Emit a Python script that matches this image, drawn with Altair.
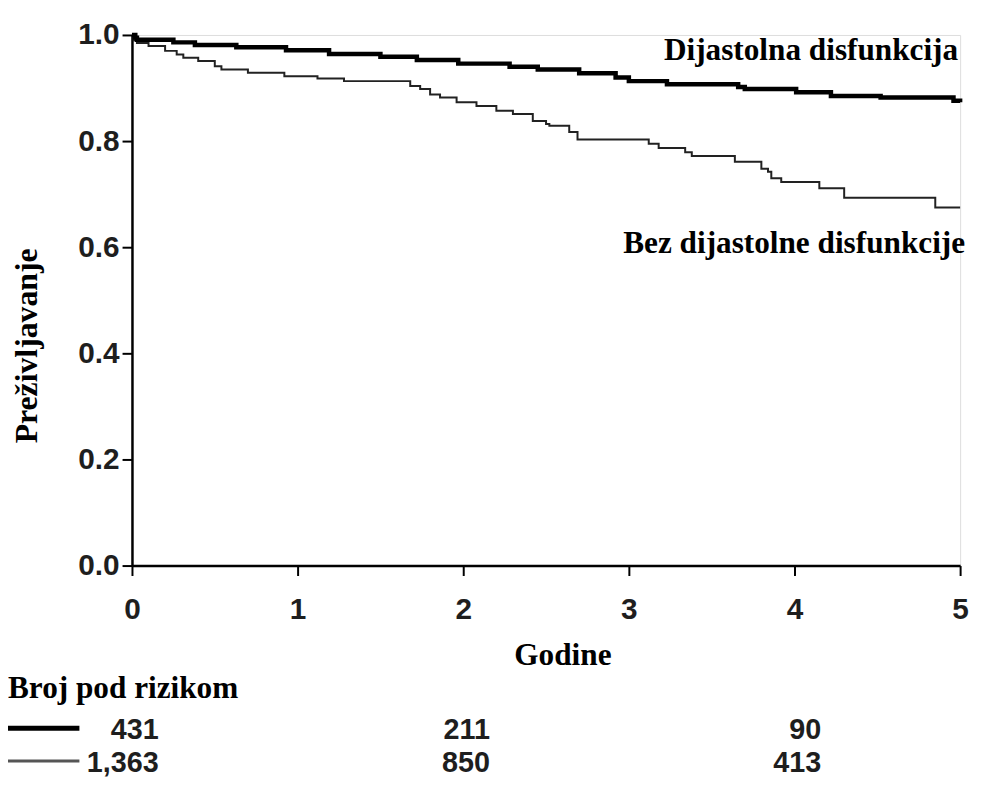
import altair as alt
import pandas as pd

# Kaplan-Meier curves (years, survival)
thick_t = [0, 0.02, 0.03, 0.25, 0.38, 0.63, 0.93, 1.19, 1.50, 1.72, 1.97, 2.28, 2.45,
           2.70, 2.92, 3.00, 3.23, 3.66, 3.70, 4.01, 4.22, 4.52, 4.96, 5.0]
thick_s = [1.0, 0.995, 0.991, 0.986, 0.981, 0.977, 0.971, 0.964, 0.959, 0.953, 0.946, 0.940, 0.935,
           0.928, 0.920, 0.913, 0.907, 0.902, 0.898, 0.892, 0.885, 0.882, 0.876, 0.873]

thin_t = [0, 0.01, 0.03, 0.10, 0.20, 0.27, 0.31, 0.40, 0.50, 0.54, 0.70, 0.92, 1.12, 1.28,
          1.68, 1.74, 1.80, 1.86, 1.96, 2.08, 2.20, 2.30, 2.42, 2.50, 2.52, 2.64, 2.69,
          3.12, 3.18, 3.34, 3.38, 3.64, 3.80, 3.84, 3.86, 3.92, 4.15, 4.30, 4.85, 5.0]
thin_s = [1.0, 0.99, 0.985, 0.979, 0.970, 0.963, 0.957, 0.951, 0.941, 0.935, 0.929, 0.922, 0.918, 0.913,
          0.904, 0.898, 0.888, 0.882, 0.873, 0.866, 0.857, 0.851, 0.838, 0.832, 0.829, 0.817, 0.803,
          0.795, 0.787, 0.779, 0.772, 0.761, 0.748, 0.742, 0.730, 0.723, 0.711, 0.693, 0.675, 0.675]

x_ticks = [0, 1, 2, 3, 4, 5]
y_ticks = [0.0, 0.2, 0.4, 0.6, 0.8, 1.0]

label_thick = "Dijastolna disfunkcija"
label_thin = "Bez dijastolne disfunkcije"
x_title = "Godine"
y_title = "Preživljavanje"
risk_title = "Broj pod rizikom"
risk_times = [0, 2, 4]
risk_thick = ["431", "211", "90"]
risk_thin = ["1,363", "850", "413"]

SERIF = "Liberation Serif"
SANS = "Liberation Sans"

df_thick = pd.DataFrame({"t": thick_t, "s": thick_s})
df_thin = pd.DataFrame({"t": thin_t, "s": thin_s})

xscale = alt.Scale(domain=[0, 5], nice=False, zero=False)
yscale = alt.Scale(domain=[0, 1], nice=False)

xaxis = alt.Axis(values=x_ticks, format="d", title=x_title, grid=False,
                 tickSize=10, tickWidth=2, tickColor="black", domainColor="black", domainWidth=2.5,
                 labelFont=SANS, labelFontSize=30, labelFontWeight="bold", labelColor="#1e1e1e",
                 labelPadding=19, labelFlush=False,
                 titleFont=SERIF, titleFontSize=31.5, titleFontWeight="bold", titleColor="black",
                 titleX=434, titleY=100, titleBaseline="alphabetic", titleAlign="center")
yaxis = alt.Axis(values=y_ticks, format=".1f", title=y_title, grid=False,
                 tickSize=10, tickWidth=2, tickColor="black", domainColor="black", domainWidth=2.5,
                 labelFont=SANS, labelFontSize=30, labelFontWeight="bold", labelColor="#1e1e1e",
                 labelPadding=3,
                 titleFont=SERIF, titleFontSize=32, titleFontWeight="bold", titleColor="black",
                 titleAngle=270, titleX=-96, titleY=313, titleBaseline="alphabetic",
                 titleAlign="center")

thick_line = alt.Chart(df_thick).mark_line(interpolate="step-after", color="black",
                                            strokeWidth=4.5).encode(
    x=alt.X("t:Q", scale=xscale, axis=xaxis),
    y=alt.Y("s:Q", scale=yscale, axis=yaxis),
)
thin_line = alt.Chart(df_thin).mark_line(interpolate="step-after", color="#222222",
                                          strokeWidth=2).encode(
    x=alt.X("t:Q", scale=xscale),
    y=alt.Y("s:Q", scale=yscale),
)

lab_df = pd.DataFrame({"t": [5.0, 5.0], "s": [0.953, 0.59], "label": [label_thick, label_thin]})
lab1 = alt.Chart(lab_df.iloc[[0]]).mark_text(font=SERIF, fontSize=31.5, fontWeight="bold",
                                             color="black", align="right", baseline="alphabetic",
                                             dx=-2).encode(
    x=alt.X("t:Q", scale=xscale), y=alt.Y("s:Q", scale=yscale), text="label:N")
lab2 = alt.Chart(lab_df.iloc[[1]]).mark_text(font=SERIF, fontSize=31.5, fontWeight="bold",
                                             color="black", align="right", baseline="alphabetic",
                                             dx=5).encode(
    x=alt.X("t:Q", scale=xscale), y=alt.Y("s:Q", scale=yscale), text="label:N")

# Risk table below the plot
risk_head = alt.Chart(pd.DataFrame({"label": [risk_title]})).mark_text(
    font=SERIF, fontSize=31.5, fontWeight="bold", color="black", align="left",
    baseline="alphabetic").encode(x=alt.value(-125), y=alt.value(669), text="label:N")

rule_thick = alt.Chart(pd.DataFrame({"a": [0]})).mark_rule(color="black", strokeWidth=5).encode(
    x=alt.value(-125), x2=alt.value(-53), y=alt.value(699))
rule_thin = alt.Chart(pd.DataFrame({"a": [0]})).mark_rule(color="#555555", strokeWidth=3).encode(
    x=alt.value(-125), x2=alt.value(-53), y=alt.value(732))

df_r1 = pd.DataFrame({"t": risk_times, "n": risk_thick})
df_r2 = pd.DataFrame({"t": risk_times, "n": risk_thin})
r1 = alt.Chart(df_r1).mark_text(font=SANS, fontSize=29, fontWeight="bold", color="#1e1e1e",
                                align="right", baseline="alphabetic", dx=27).encode(
    x=alt.X("t:Q", scale=xscale), y=alt.value(710), text="n:N")
r2 = alt.Chart(df_r2).mark_text(font=SANS, fontSize=29, fontWeight="bold", color="#1e1e1e",
                                align="right", baseline="alphabetic", dx=27).encode(
    x=alt.X("t:Q", scale=xscale), y=alt.value(743), text="n:N")

chart = alt.layer(thin_line, thick_line, lab1, lab2, risk_head, rule_thick, rule_thin, r1, r2).properties(
    width=835, height=535,
    autosize=alt.AutoSizeParams(type="none"),
    padding={"left": 125, "top": 24, "right": 14, "bottom": 210},
).configure_view(stroke=None).configure(background="white")

chart.save("out.html", embed_options={"renderer": "svg", "actions": False})
